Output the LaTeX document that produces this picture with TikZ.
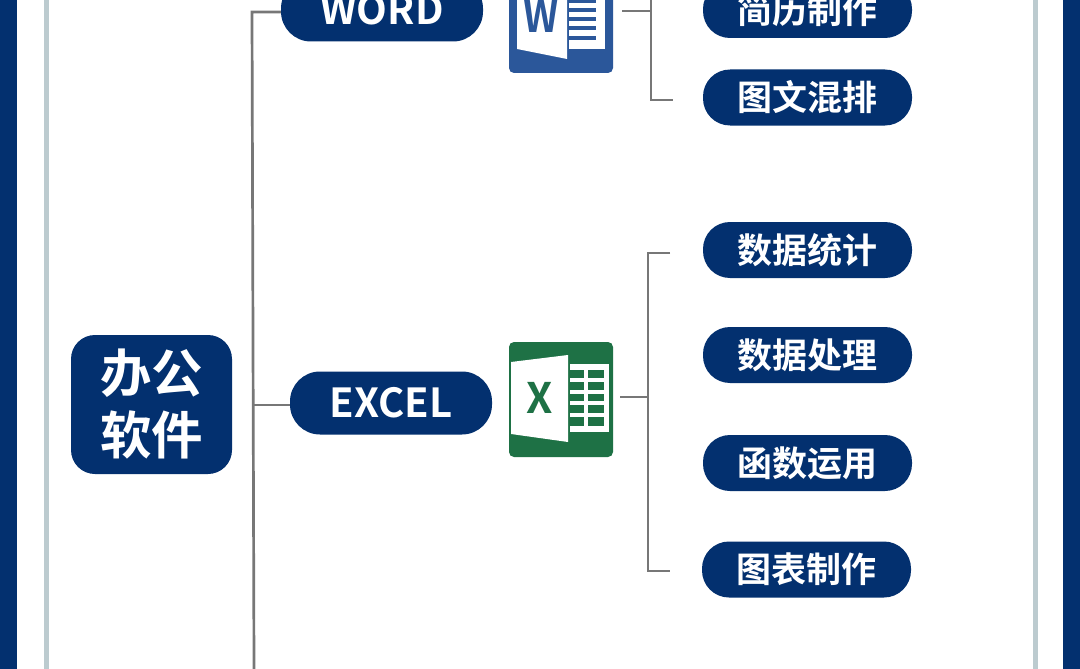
\documentclass[tikz,border=0pt]{standalone}
\usepackage{fontspec}
\setmainfont{Noto Sans CJK SC Bold}
\definecolor{navy}{HTML}{03306F}
\definecolor{frameline}{HTML}{BCCBCF}
\definecolor{conn}{HTML}{777777}
\definecolor{wordblue}{HTML}{2B579A}
\definecolor{xlgreen}{HTML}{1E7145}
\tikzset{
  pill/.style={fill=navy,text=white,inner sep=0pt,rounded corners=#1,align=center},
  leaf/.style={pill=27pt,minimum width=209pt,minimum height=56pt,font=\fontsize{35}{35}\selectfont},
  head/.style={pill=30pt,minimum width=202pt,minimum height=63pt,font=\fontsize{40}{40}\selectfont},
  wire/.style={draw=conn,line width=2.7pt},
}
\begin{document}
\begin{tikzpicture}[x=1pt,y=-1pt]
\useasboundingbox (0,0) rectangle (1080,669);
\clip (0,0) rectangle (1080,669);
\fill[white] (0,0) rectangle (1080,669);
% frame
\fill[navy] (0,0) rectangle (17,669);
\fill[navy] (1063,0) rectangle (1080,669);
\fill[frameline] (44,0) rectangle (48.5,669);
\fill[frameline] (1033,0) rectangle (1038,669);
% word icon
\fill[wordblue,rounded corners=5pt] (509,-42) rectangle (613,73);
\fill[white] (517,-30) -- (567,-36) -- (567,59) -- (517,49) -- cycle;
\fill[white] (569,-25) rectangle (605,49);
\foreach \yy in {1,10,19,28,38} \fill[wordblue] (569,\yy-1.7) rectangle (596,\yy+1.7);
\node[name=wordW,text=wordblue,inner sep=0pt,xscale=.84,transform shape,font=\fontsize{46}{46}\selectfont] at (541,15) {W};
% excel icon
\fill[xlgreen,rounded corners=5pt] (509,342) rectangle (613,457);
\fill[white] (511,362) -- (568,355) -- (568,442) -- (511,434) -- cycle;
\fill[white] (570,364) rectangle (609,432);
\foreach \ya/\yb in {370/378,382/390,394/401,405/413,417/426}{
  \fill[xlgreen] (570,\ya) rectangle (584,\yb);
  \fill[xlgreen] (588,\ya) rectangle (604,\yb);
}
\node[name=excelX,text=xlgreen,inner sep=0pt,font=\fontsize{42}{42}\selectfont] at (540,398) {X};
% nodes
\node[pill=24pt,minimum width=161pt,minimum height=139pt,font=\fontsize{51.5}{62}\selectfont] (main) at (151.5,404.5) {办公\\软件};
\node[head] (word) at (382,10) {WORD};
\node[head] (excel) at (391,403) {EXCEL};
\node[leaf] (l1) at (807.5,10) {简历制作};
\node[leaf] (l2) at (807.5,97.5) {图文混排};
\node[leaf] (e1) at (807.5,250) {数据统计};
\node[leaf] (e2) at (807.5,355) {数据处理};
\node[leaf] (e3) at (807.5,463) {函数运用};
\node[leaf] (e4) at (806.5,569.5) {图表制作};
% connectors
\coordinate (ttop) at (252,12);
\coordinate (tbot) at (254,669);
\coordinate (texcel) at (253,405);
\coordinate (wfrom) at (622,11);
\coordinate (wj) at (651,11);
\coordinate (wtop) at (651,-10);
\coordinate (wend) at (673,100);
\coordinate (xfrom) at (620,397);
\coordinate (xj) at (648,397);
\coordinate (xa) at (670,253);
\coordinate (xb) at (670,571);
\draw[wire] (word.west |- ttop) -- (ttop) -- (tbot);
\draw[wire] (texcel) -- (excel.west |- texcel);
\draw[wire] (wfrom) -- (wj);
\draw[wire] (wtop) -- (wj) |- (wend);
\draw[wire] (xfrom) -- (xj);
\draw[wire] (xa) -- (xj |- xa) -- (xj |- xb) -- (xb);
\end{tikzpicture}
\end{document}
